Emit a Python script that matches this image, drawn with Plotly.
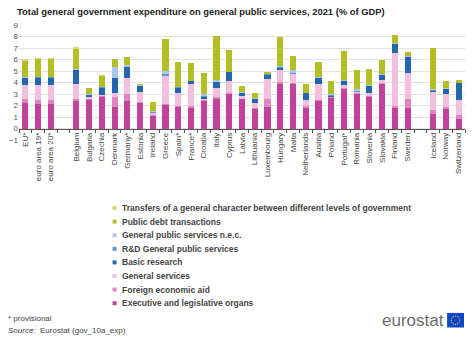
import math
import plotly.graph_objects as go

# Countries / aggregates; blank entries separate the groups
countries = ["EU*", "euro area 19*", "euro area 20*", " ",
             "Belgium", "Bulgaria", "Czechia", "Denmark", "Germany*", "Estonia",
             "Ireland", "Greece", "Spain*", "France*", "Croatia", "Italy", "Cyprus",
             "Latvia", "Lithuania", "Luxembourg", "Hungary", "Malta", "Netherlands",
             "Austria", "Poland", "Portugal*", "Romania", "Slovenia", "Slovakia",
             "Finland", "Sweden", "  ", "Iceland", "Norway", "Switzerland"]

executive = [2.20, 2.15, 2.15, None, 2.45, 2.55, 2.80, 1.87, 2.38, 2.25, 1.15, 2.10, 1.90,
             1.85, 2.40, 2.65, 3.05, 2.60, 1.75, 1.85, 3.95, 3.90, 1.85, 2.40, 2.70,
             3.50, 3.05, 2.75, 3.90, 1.75, 1.80, None, 1.30, 1.75, 0.85]
foreign_aid = [0.35, 0.35, 0.35, None, 0.15, 0.02, 0.05, 0.85, 0.65, 0.05, 0.10, 0.05, 0.10,
               0.10, 0.05, 0.10, 0.05, 0.05, 0.05, 0.70, 0.10, 0.10, 0.10, 0.10, 0.05,
               0.05, 0.05, 0.10, 0.05, 0.25, 0.75, None, 0.30, 0.10, 0.35]
general_services = [1.20, 1.25, 1.25, None, 1.30, 0.20, 0.10, 0.33, 1.33, 0.90, 0.10, 2.45, 1.10,
                    1.90, 0.20, 0.75, 1.05, 0.15, 0.40, 1.72, 1.05, 0.75, 0.55, 1.35, 0.05,
                    0.25, 0.10, 0.25, 0.25, 4.60, 2.30, None, 1.60, 1.15, 1.30]
basic_research = [0.65, 0.70, 0.70, None, 1.20, 0.20, 0.65, 1.35, 1.00, 0.50, 0.05, 0.05, 0.50,
                  0.30, 0.15, 0.60, 0.75, 0.30, 0.40, 0.45, 0.20, 0.05, 0.60, 0.55, 0.10,
                  0.35, 0.05, 0.60, 0.50, 0.80, 1.40, None, 0.10, 0.50, 1.50]
rd_general = [0.03, 0.03, 0.03, None, 0.02, 0.00, 0.02, 0.00, 0.05, 0.05, 0.05, 0.10, 0.02,
              0.00, 0.05, 0.03, 0.00, 0.02, 0.02, 0.03, 0.05, 0.05, 0.02, 0.03, 0.02,
              0.02, 0.05, 0.05, 0.02, 0.00, 0.03, None, 0.05, 0.02, 0.00]
gps_nec = [0.02, 0.02, 0.02, None, 0.02, 0.05, 0.00, 0.98, 0.12, 0.05, 0.08, 0.25, 0.00,
           0.02, 0.15, 0.10, 0.00, 0.05, 0.02, 0.00, 0.10, 0.25, 0.00, 0.02, 0.05,
           0.03, 0.10, 0.05, 0.03, 0.05, 0.05, None, 0.10, 0.03, 0.00]
public_debt = [1.50, 1.60, 1.60, None, 1.85, 0.48, 0.95, 0.67, 0.67, 0.05, 0.77, 2.80, 2.18,
               1.55, 1.80, 3.85, 1.92, 0.55, 0.45, 0.15, 2.55, 1.20, 0.78, 1.35, 1.13,
               2.50, 1.70, 1.40, 1.20, 0.65, 0.30, None, 3.55, 0.60, 0.25]
transfers = [0.05, 0.02, 0.02, None, 0.02, 0.00, 0.03, 0.00, 0.00, 0.00, 0.00, 0.00, 0.00,
             0.00, 0.00, 0.00, 0.00, 0.00, 0.00, 0.00, 0.00, 0.00, 0.00, 0.00, 0.00,
             0.00, 0.00, 0.00, 0.00, 0.00, 0.00, None, 0.00, 0.00, 0.00]

series_names = ["Executive and legislative organs", "Foreign economic aid", "General services",
                "Basic research", "R&D General public services", "General public services n.e.c.",
                "Public debt transactions",
                "Transfers of a general character between different levels of government"]
series_values = [executive, foreign_aid, general_services, basic_research, rd_general,
                 gps_nec, public_debt, transfers]
series_colors = ["#C2419A", "#DE86C0", "#F2BFDF", "#2466AE", "#5C97D2", "#A9C7E8",
                 "#B4BE25", "#D6DA6C"]

W, H = 474, 342
ML, MR, MT, MB = 17, 9, 25, 202
PW, PH = W - ML - MR, H - MT - MB


def px(x):
    return (x - ML) / PW


def py(y):
    return (H - MB - y) / PH


fig = go.Figure()
for name, vals, col in zip(series_names, series_values, series_colors):
    fig.add_trace(go.Bar(x=countries, y=vals, name=name, marker_color=col,
                         marker_line_width=0, showlegend=False))

annotations = []
shapes = []

# Title
annotations.append(dict(
    text="<b>Total general government expenditure on general public services, 2021 (% of GDP)</b>",
    xref="paper", yref="paper", x=px(13), y=py(12), xanchor="left", yanchor="middle",
    showarrow=False, font=dict(size=9.4, color="#222", family="Liberation Sans, Arial")))

# Legend, last series on top
for i, (name, col) in enumerate(zip(series_names[::-1], series_colors[::-1])):
    yc = 208 + i * 13.6
    shapes.append(dict(type="rect", xref="paper", yref="paper",
                       x0=px(111), x1=px(115), y0=py(yc - 2), y1=py(yc + 2),
                       fillcolor=col, line_width=0))
    annotations.append(dict(text="<b>" + name.replace("&", "&amp;") + "</b>",
                            xref="paper", yref="paper",
                            x=px(118), y=py(yc), xanchor="left", yanchor="middle",
                            showarrow=False,
                            font=dict(size=8.5, color="#444", family="Liberation Sans, Arial")))

# Footnotes
annotations.append(dict(text="* provisional", xref="paper", yref="paper",
                        x=px(4), y=py(318), xanchor="left", yanchor="middle", showarrow=False,
                        font=dict(size=8, color="#444", family="Liberation Sans, Arial")))
annotations.append(dict(text="<i>Source:</i>  Eurostat (gov_10a_exp)", xref="paper", yref="paper",
                        x=px(4), y=py(331), xanchor="left", yanchor="middle", showarrow=False,
                        font=dict(size=8, color="#444", family="Liberation Sans, Arial")))

# Eurostat logo
annotations.append(dict(text="eurostat", xref="paper", yref="paper",
                        x=px(446), y=py(320.5), xanchor="right", yanchor="middle", showarrow=False,
                        font=dict(size=17, color="#6b6b6b", family="Liberation Sans, Arial")))
shapes.append(dict(type="rect", xref="paper", yref="paper",
                   x0=px(447), x1=px(464), y0=py(313), y1=py(327.5),
                   fillcolor="#0E47CB", line_width=0))
for k in range(12):
    a = 2 * math.pi * k / 12
    cx, cy = 455.5 + 4.2 * math.cos(a), 320.2 + 4.2 * math.sin(a)
    shapes.append(dict(type="circle", xref="paper", yref="paper",
                       x0=px(cx - 0.6), x1=px(cx + 0.6), y0=py(cy - 0.6), y1=py(cy + 0.6),
                       fillcolor="#FFDD00", line_width=0))

fig.update_layout(
    width=W, height=H,
    margin=dict(l=ML, r=MR, t=MT, b=MB, pad=0),
    barmode="stack", bargap=0.52,
    paper_bgcolor="white", plot_bgcolor="white",
    font=dict(family="Liberation Sans, Arial", color="#444"),
    xaxis=dict(type="category", categoryorder="array", categoryarray=countries,
               anchor="free", position=0.1,
               tickson="boundaries", ticks="outside", ticklen=3, tickcolor="#555",
               showline=True, linecolor="#555", linewidth=1, showgrid=False,
               tickangle=-90, tickfont=dict(size=8, color="#444")),
    yaxis=dict(range=[-1, 9], dtick=1, showgrid=True, gridcolor="#e2e2e2", gridwidth=1,
               zeroline=False, showline=False, ticks="",
               tickfont=dict(size=8, color="#555")),
    annotations=annotations, shapes=shapes,
)

fig.write_html("out.html")
